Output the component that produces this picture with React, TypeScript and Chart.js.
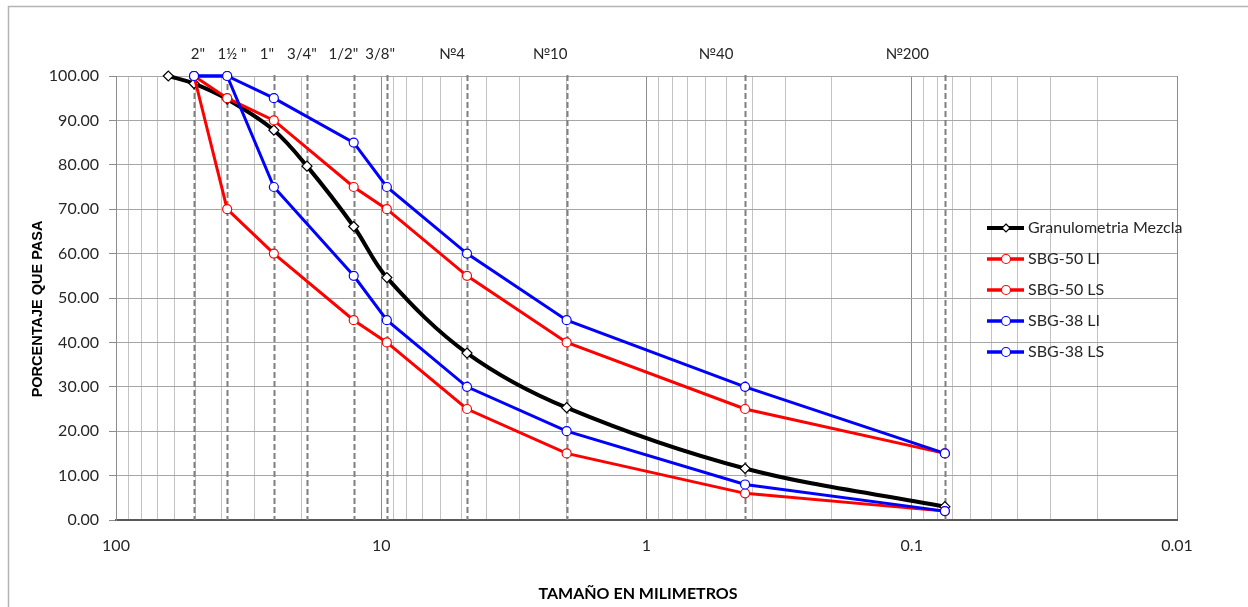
import React, { useEffect, useRef } from 'react';
import { Chart, registerables } from 'chart.js';

Chart.register(...registerables);

const W = 1248;
const H = 607;

// Grain sizes (mm) and percentages passing
const SIZES_MEZCLA = [63.5, 50.8, 38.1, 25.4, 19.05, 12.7, 9.525, 4.75, 2.0, 0.425, 0.075];
const PASA_MEZCLA = [100, 98.3, 94.8, 87.8, 79.7, 66.1, 54.6, 37.6, 25.3, 11.6, 3.0];

const SIZES_SBG = [50.8, 38.1, 25.4, 12.7, 9.525, 4.75, 2.0, 0.425, 0.075];
const SBG50_LI = [100, 70, 60, 45, 40, 25, 15, 6, 2];
const SBG50_LS = [100, 95, 90, 75, 70, 55, 40, 25, 15];
const SBG38_LI = [100, 100, 75, 55, 45, 30, 20, 8, 2];
const SBG38_LS = [100, 100, 95, 85, 75, 60, 45, 30, 15];

// Sieve reference lines
const SIEVE_SIZES = [50.8, 38.1, 25.4, 19.05, 12.7, 9.525, 4.75, 2.0, 0.425, 0.075];
const SIEVE_LABELS = ['2"', '1½ "', '1"', '3/4"', '1/2"', '3/8"', '№4', '№10', '№40', '№200'];
const SIEVE_LABEL_AT = [49.1, 36.5, 27.0, 19.9, 13.9, 10.1, 5.41, 2.31, 0.547, 0.104];

const Y_TICKS_STEP = 10;
const X_DECADES = [-2, -1, 0, 1];

const SERIES_NAMES = ['Granulometria Mezcla', 'SBG-50 LI', 'SBG-50 LS', 'SBG-38 LI', 'SBG-38 LS'];
const SERIES_COLORS = ['#000000', '#ff0000', '#ff0000', '#0000ff', '#0000ff'];

const X_TITLE = 'TAMAÑO EN MILIMETROS';
const Y_TITLE = 'PORCENTAJE QUE PASA';

const FONT = 'Lato, "Open Sans", sans-serif';
const TEXT_COLOR = '#262626';

function buildTickValues(): number[] {
  const out: number[] = [];
  for (const e of X_DECADES) {
    for (let m = 1; m <= 9; m++) out.push(Number((m * Math.pow(10, e)).toPrecision(6)));
  }
  out.push(100);
  return out;
}
const X_TICK_VALUES = buildTickValues();

function isDecade(v: number) {
  const l = Math.log10(v);
  return Math.abs(l - Math.round(l)) < 1e-9;
}

function pts(xs: number[], ys: number[]) {
  return xs.map((x, i) => ({ x, y: ys[i] }));
}

const overlayPlugin = {
  id: 'overlay',
  beforeDatasetsDraw(chart: any) {
    const ctx = chart.ctx;
    const xs = chart.scales.x;
    const area = chart.chartArea;
    ctx.save();
    ctx.strokeStyle = '#7f7f7f';
    ctx.lineWidth = 2;
    ctx.setLineDash([6, 3]);
    SIEVE_SIZES.forEach((s) => {
      const px = Math.round(xs.getPixelForValue(s)) + 0.5;
      ctx.beginPath();
      ctx.moveTo(px, area.top - 1);
      ctx.lineTo(px, area.bottom);
      ctx.stroke();
    });
    ctx.restore();
  },
  afterDraw(chart: any) {
    const ctx = chart.ctx;
    const xs = chart.scales.x;
    ctx.save();
    // outer frame
    ctx.strokeStyle = '#b4b4b4';
    ctx.lineWidth = 1.5;
    ctx.beginPath();
    ctx.moveTo(8.5, H);
    ctx.lineTo(8.5, 6.5);
    ctx.lineTo(W, 6.5);
    ctx.stroke();

    // sieve labels
    ctx.fillStyle = TEXT_COLOR;
    ctx.font = `15px ${FONT}`;
    ctx.textAlign = 'center';
    ctx.textBaseline = 'middle';
    SIEVE_LABELS.forEach((lab, i) => {
      ctx.fillText(lab, xs.getPixelForValue(SIEVE_LABEL_AT[i]), 54);
    });

    // axis titles
    ctx.fillStyle = '#000';
    ctx.font = `bold 16px ${FONT}`;
    ctx.fillText(X_TITLE, 638, 594);
    ctx.save();
    ctx.translate(38, 309);
    ctx.rotate(-Math.PI / 2);
    ctx.font = 'bold 14.5px "Liberation Sans", Arial, sans-serif';
    ctx.fillText(Y_TITLE, 0, 0);
    ctx.restore();

    // legend
    const lx0 = 987;
    const lx1 = 1024;
    const mx = 1006;
    SERIES_NAMES.forEach((name, i) => {
      const y = 228 + i * 31;
      const col = SERIES_COLORS[i];
      ctx.strokeStyle = col;
      ctx.lineWidth = i === 0 ? 4 : 3.5;
      ctx.beginPath();
      ctx.moveTo(lx0, y);
      ctx.lineTo(lx1, y);
      ctx.stroke();
      ctx.fillStyle = '#fff';
      ctx.lineWidth = 1.2;
      ctx.beginPath();
      if (i === 0) {
        ctx.moveTo(mx, y - 4);
        ctx.lineTo(mx + 4, y);
        ctx.lineTo(mx, y + 4);
        ctx.lineTo(mx - 4, y);
        ctx.closePath();
      } else {
        ctx.arc(mx, y, 4.5, 0, Math.PI * 2);
      }
      ctx.fill();
      ctx.stroke();
      ctx.fillStyle = TEXT_COLOR;
      ctx.font = `16px ${FONT}`;
      ctx.textAlign = 'left';
      ctx.fillText(name, 1028, y);
    });
    ctx.restore();
  },
};

export default function App() {
  const ref = useRef<HTMLCanvasElement | null>(null);

  useEffect(() => {
    if (!ref.current) return;
    const mk = (label: string, data: any[], color: string, order: number, black = false) => ({
      label,
      data,
      borderColor: color,
      backgroundColor: color,
      borderWidth: black ? 4 : 3,
      pointStyle: black ? 'rectRot' : 'circle',
      pointRadius: black ? 5 : 4.5,
      pointBackgroundColor: '#ffffff',
      pointBorderColor: black ? '#000000' : color,
      pointBorderWidth: 1.2,
      tension: black ? 0.35 : 0,
      order,
      clip: false as any,
    });

    const chart = new Chart(ref.current, {
      type: 'line',
      data: {
        datasets: [
          mk(SERIES_NAMES[0], pts(SIZES_MEZCLA, PASA_MEZCLA), SERIES_COLORS[0], 5, true),
          mk(SERIES_NAMES[1], pts(SIZES_SBG, SBG50_LI), SERIES_COLORS[1], 4),
          mk(SERIES_NAMES[2], pts(SIZES_SBG, SBG50_LS), SERIES_COLORS[2], 3),
          mk(SERIES_NAMES[3], pts(SIZES_SBG, SBG38_LI), SERIES_COLORS[3], 2),
          mk(SERIES_NAMES[4], pts(SIZES_SBG, SBG38_LS), SERIES_COLORS[4], 1),
        ] as any,
      },
      options: {
        responsive: false,
        animation: false,
        layout: { padding: { top: 76, right: 71, left: 0, bottom: 0 } },
        plugins: { legend: { display: false }, tooltip: { enabled: false } },
        scales: {
          x: {
            type: 'logarithmic',
            min: 0.01,
            max: 100,
            reverse: true,
            afterBuildTicks: (s: any) => {
              s.ticks = X_TICK_VALUES.map((v) => ({ value: v }));
            },
            afterFit: (s: any) => {
              s.height = 87;
            },
            ticks: {
              autoSkip: false,
              maxRotation: 0,
              padding: 16,
              color: TEXT_COLOR,
              font: { family: FONT, size: 16 },
              callback: (v: any) => (isDecade(Number(v)) ? String(Number(v)) : ''),
            },
            grid: {
              color: (c: any) => (c.tick && isDecade(c.tick.value) ? '#8c8c8c' : '#c3c3c3'),
              drawTicks: false,
              lineWidth: 1,
            },
            border: { display: true, color: '#595959', width: 2 },
          } as any,
          y: {
            min: 0,
            max: 100,
            afterFit: (s: any) => {
              s.width = 116;
            },
            ticks: {
              stepSize: Y_TICKS_STEP,
              padding: 10,
              color: TEXT_COLOR,
              font: { family: FONT, size: 16 },
              callback: (v: any) => Number(v).toFixed(2),
            },
            grid: { color: '#a6a6a6', tickLength: 7, tickColor: '#8c8c8c', lineWidth: 1 },
            border: { display: true, color: '#8c8c8c', width: 1 },
          },
        },
      },
      plugins: [overlayPlugin],
    } as any);
    return () => chart.destroy();
  }, []);

  return (
    <div style={{ position: 'absolute', left: 0, top: 0, width: W, height: H, background: '#fff' }}>
      <canvas ref={ref} width={W} height={H} style={{ display: 'block', width: W, height: H }} />
    </div>
  );
}
